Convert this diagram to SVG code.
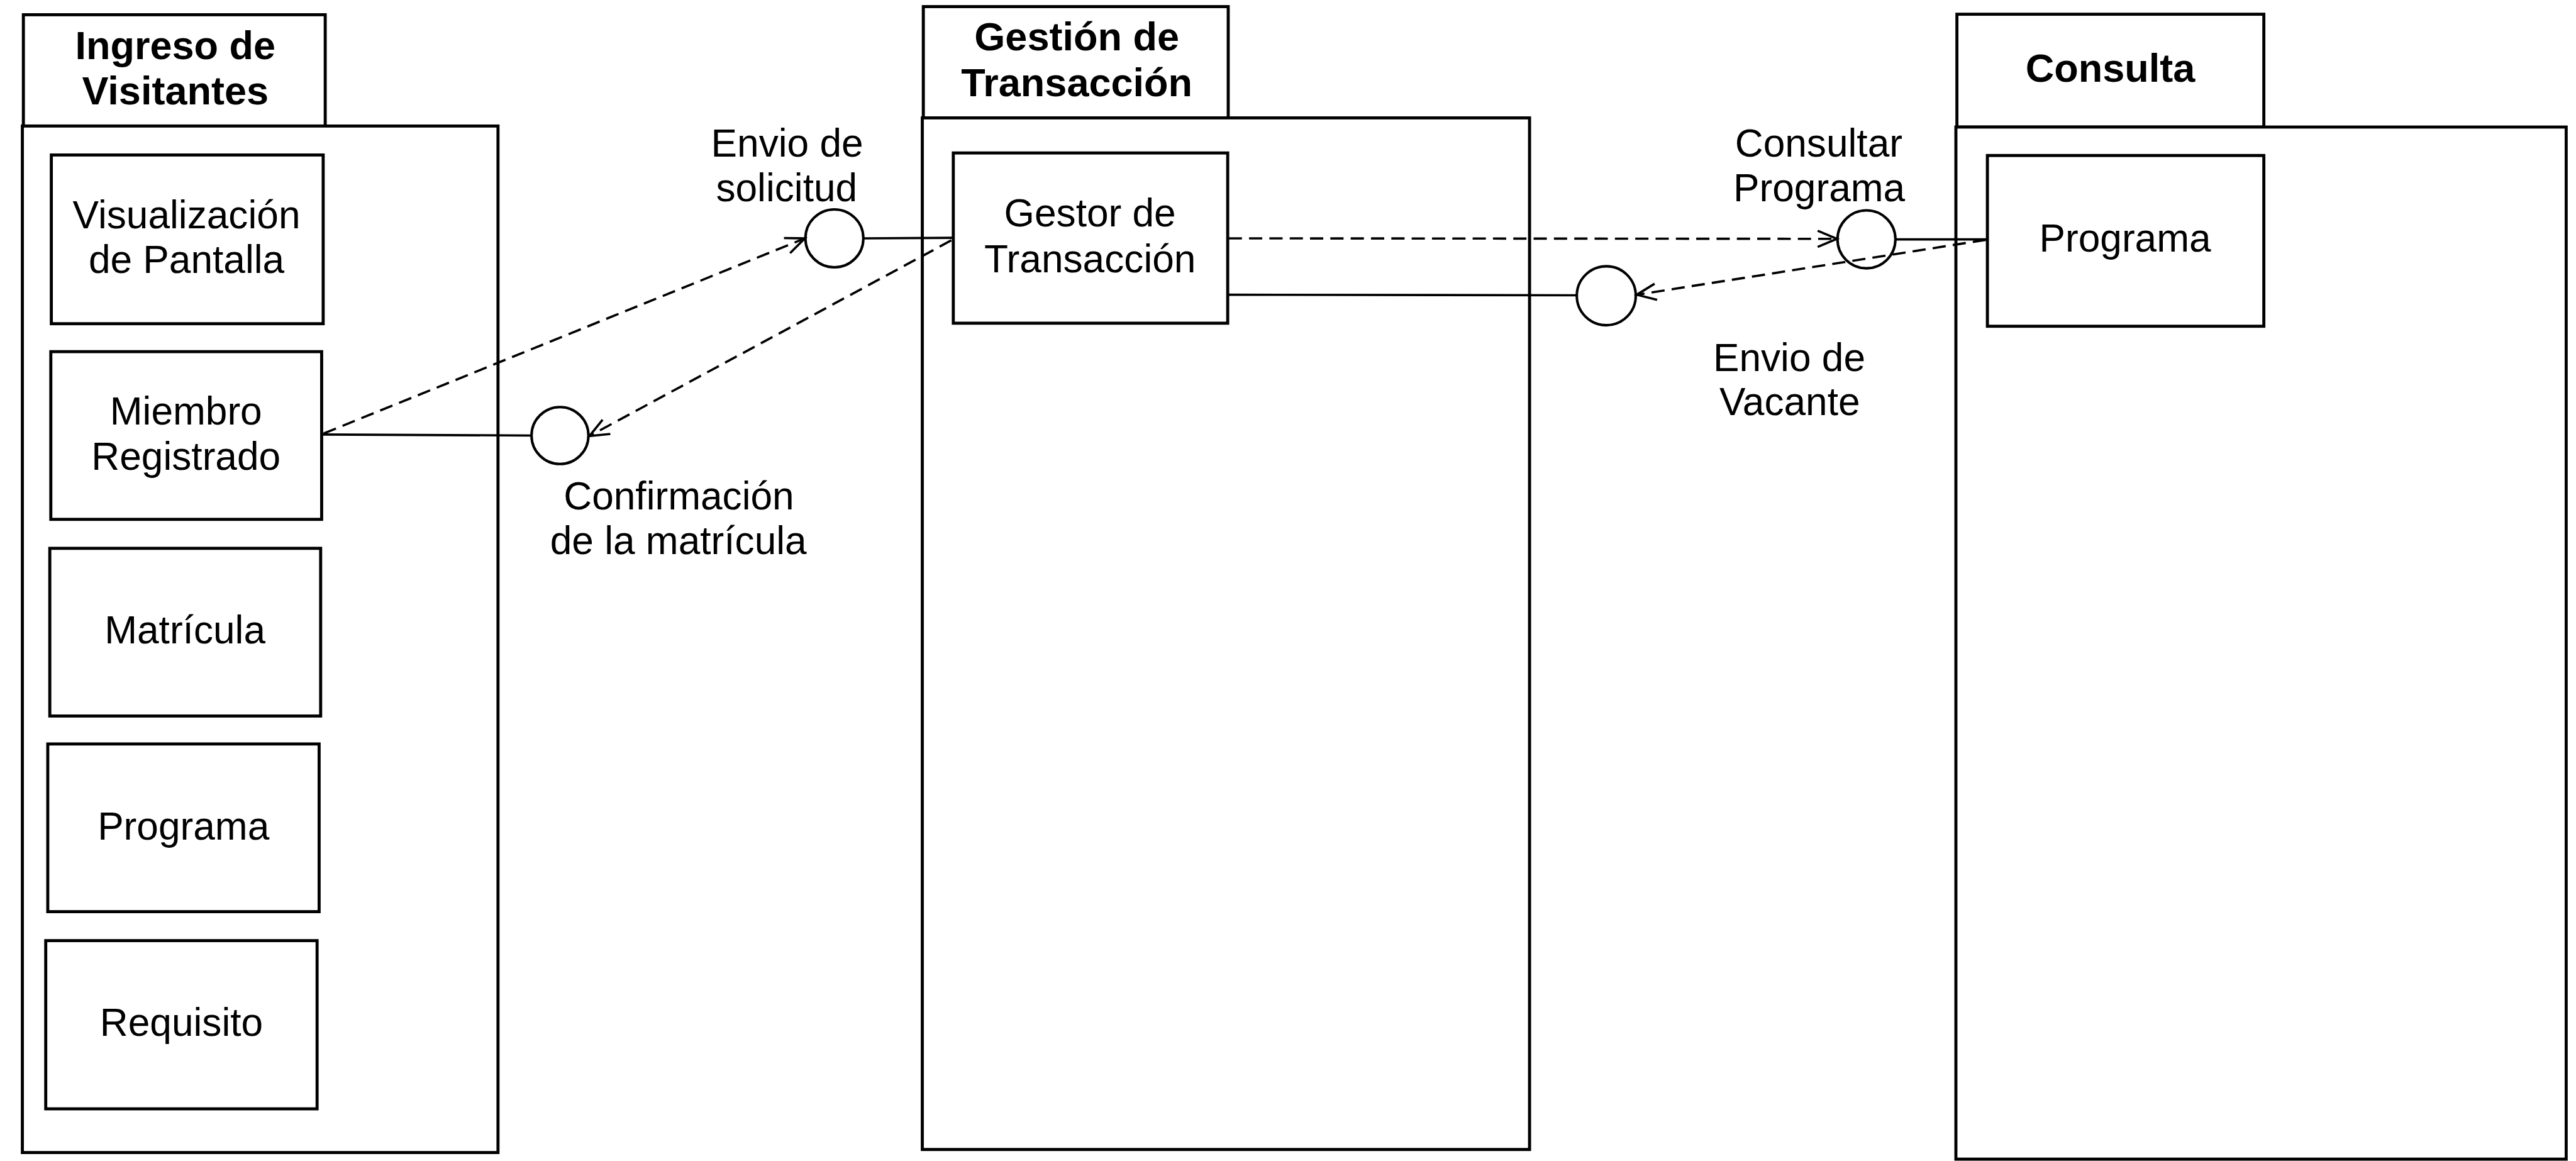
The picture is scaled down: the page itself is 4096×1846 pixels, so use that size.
<svg xmlns="http://www.w3.org/2000/svg" width="4096" height="1846" viewBox="0 0 4096 1846">
  <defs>
    <style>
      .pkg { fill: #fff; stroke: #000; stroke-width: 6; }
      .box { fill: #fff; stroke: #000; stroke-width: 6; }
      .iface { fill: none; stroke: #000; stroke-width: 5; }
      .solid { fill: none; stroke: #000; stroke-width: 4.5; }
      .dash { fill: none; stroke: #000; stroke-width: 4.5; stroke-dasharray: 26 14; marker-end: url(#open-arrow); }
      .title { font-family: "Liberation Sans", Arial, sans-serif; font-weight: bold; font-size: 78px; text-anchor: middle; fill: #000; }
      .label { font-family: "Liberation Sans", Arial, sans-serif; font-size: 77px; text-anchor: middle; fill: #000; }
    </style>
    <marker id="open-arrow" markerUnits="userSpaceOnUse" markerWidth="60" markerHeight="60" viewBox="-50 -30 60 60" refX="0" refY="0" orient="auto" overflow="visible">
      <path d="M-38,-16 L0,0 L-38,16" fill="none" stroke="#000" stroke-width="4.5"/>
    </marker>
  </defs>
  <rect width="4096" height="1846" fill="#fff"/>
  <g transform="scale(0.808)">
    <!-- Package: Ingreso de Visitantes -->
    <g id="pkg-ingreso">
      <rect class="pkg" x="46" y="29" width="594" height="219"/>
      <rect class="pkg" x="44" y="248" width="936" height="2020"/>
      <text class="title" x="345" y="116">Ingreso de</text>
      <text class="title" x="345" y="206">Visitantes</text>
    </g>
    <g id="node-visualizacion">
      <rect class="box" x="101" y="305" width="535" height="332"/>
      <text class="label" x="367" y="449">Visualización</text>
      <text class="label" x="367" y="537">de Pantalla</text>
    </g>
    <g id="node-miembro">
      <rect class="box" x="100" y="692" width="533" height="330"/>
      <text class="label" x="366" y="836">Miembro</text>
      <text class="label" x="366" y="924">Registrado</text>
    </g>
    <g id="node-matricula">
      <rect class="box" x="98" y="1079" width="533" height="330"/>
      <text class="label" x="364" y="1266">Matrícula</text>
    </g>
    <g id="node-programa-ingreso">
      <rect class="box" x="94" y="1464" width="534" height="330"/>
      <text class="label" x="361" y="1652">Programa</text>
    </g>
    <g id="node-requisito">
      <rect class="box" x="90" y="1851" width="534" height="331"/>
      <text class="label" x="357" y="2038">Requisito</text>
    </g>

    <!-- Package: Gestión de Transacción -->
    <g id="pkg-gestion">
      <rect class="pkg" x="1817" y="13" width="600" height="219"/>
      <rect class="pkg" x="1815" y="232" width="1195" height="2030"/>
      <text class="title" x="2119" y="99">Gestión de</text>
      <text class="title" x="2119" y="189">Transacción</text>
    </g>
    <g id="node-gestor">
      <rect class="box" x="1876" y="301" width="540" height="335"/>
      <text class="label" x="2145" y="446">Gestor de</text>
      <text class="label" x="2145" y="536">Transacción</text>
    </g>

    <!-- Package: Consulta -->
    <g id="pkg-consulta">
      <rect class="pkg" x="3851" y="28" width="604" height="222"/>
      <rect class="pkg" x="3849" y="250" width="1201" height="2031"/>
      <text class="title" x="4153" y="161">Consulta</text>
    </g>
    <g id="node-programa-consulta">
      <rect class="box" x="3911" y="306" width="544" height="336"/>
      <text class="label" x="4182" y="495">Programa</text>
    </g>

    <!-- Interfaces (lollipops) and dependencies -->
    <g id="connectors">
      <line class="solid" x1="633" y1="855" x2="1046" y2="857"/>
      <line class="dash" x1="637" y1="853" x2="1584" y2="469"/>
      <line class="solid" x1="1699" y1="469" x2="1876" y2="468"/>
      <line class="dash" x1="1872" y1="473" x2="1160" y2="858"/>
      <line class="dash" x1="2418" y1="469" x2="3615" y2="470"/>
      <line class="solid" x1="3730" y1="471" x2="3911" y2="471"/>
      <line class="dash" x1="3908" y1="472" x2="3221" y2="580"/>
      <line class="solid" x1="2416" y1="580" x2="3103" y2="581"/>
    </g>
    <g id="iface-solicitud">
      <circle class="iface" cx="1642" cy="469" r="57"/>
      <text class="label" x="1549" y="308">Envio de</text>
      <text class="label" x="1548" y="396">solicitud</text>
    </g>
    <g id="iface-confirmacion">
      <circle class="iface" cx="1102" cy="857" r="56"/>
      <text class="label" x="1336" y="1002">Confirmación</text>
      <text class="label" x="1335" y="1090">de la matrícula</text>
    </g>
    <g id="iface-consultar">
      <circle class="iface" cx="3673" cy="471" r="57"/>
      <text class="label" x="3579" y="308">Consultar</text>
      <text class="label" x="3580" y="396">Programa</text>
    </g>
    <g id="iface-vacante">
      <circle class="iface" cx="3161" cy="582" r="58"/>
      <text class="label" x="3521" y="730">Envio de</text>
      <text class="label" x="3522" y="817">Vacante</text>
    </g>
  </g>
</svg>
